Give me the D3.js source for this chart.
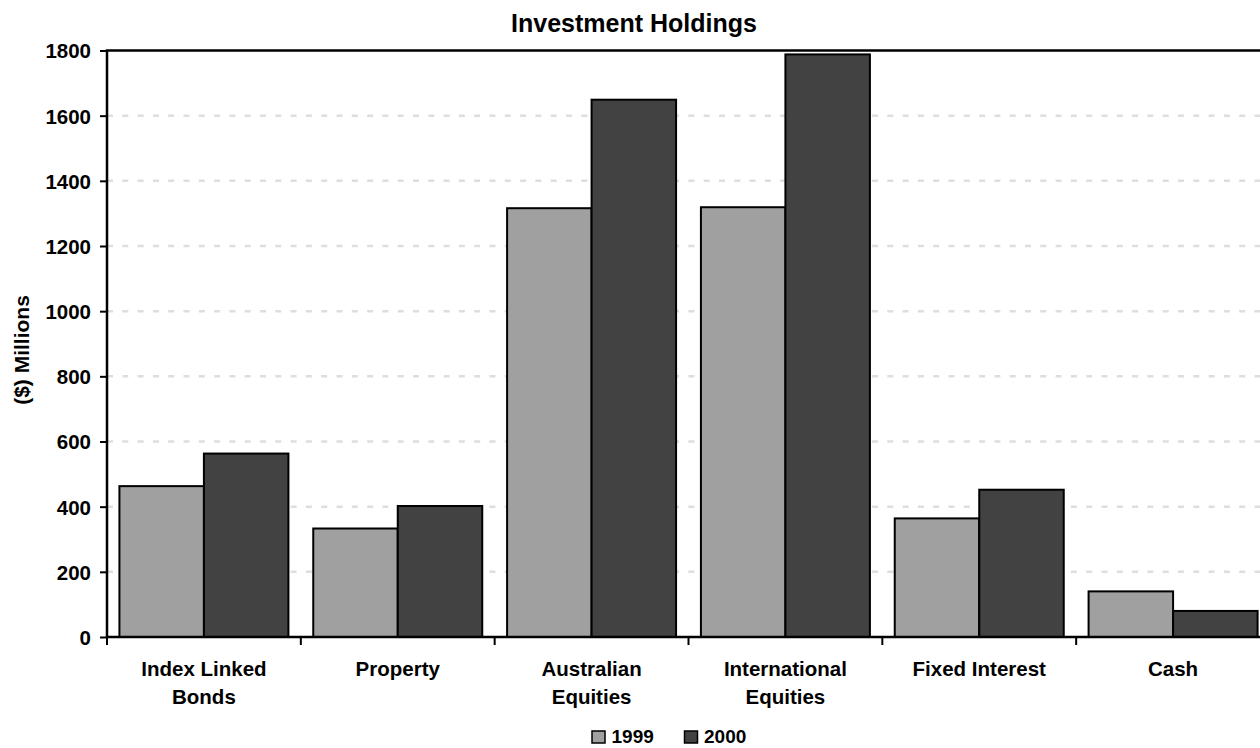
<!DOCTYPE html>
<html>
<head>
<meta charset="utf-8">
<script src="https://cdn.jsdelivr.net/npm/d3@7"></script>
<style>
  html, body { margin: 0; padding: 0; background: #fff; }
  svg { display: block; font-family: "Liberation Sans", Arial, sans-serif; font-weight: bold; }
</style>
</head>
<body>
<svg id="chart" width="1260" height="748"></svg>
<script>
const categories = [["Index Linked", "Bonds"], ["Property"], ["Australian", "Equities"], ["International", "Equities"], ["Fixed Interest"], ["Cash"]];
const categoryKeys = ["Index Linked Bonds", "Property", "Australian Equities", "International Equities", "Fixed Interest", "Cash"];
const seriesNames = ["1999", "2000"];
const values1999 = [463, 333, 1316, 1319, 364, 140];
const values2000 = [563, 402, 1649, 1788, 452, 80];
const yTicks = [0, 200, 400, 600, 800, 1000, 1200, 1400, 1600, 1800];
const colors = ["#a0a0a0", "#424242"];

const svg = d3.select("#chart");
const plotLeft = 107, plotRight = 1270, plotTop = 50.5, plotBottom = 637;

const x = d3.scaleBand().domain(categoryKeys).range([plotLeft, plotRight]).padding(0);
const xs = d3.scaleBand().domain(seriesNames).range([0, x.bandwidth()]).paddingInner(0).paddingOuter(0.147);
const y = d3.scaleLinear().domain([0, 1800]).range([plotBottom, plotTop]);

// gridlines
svg.append("g").selectAll("line").data(yTicks.filter(d => d > 0 && d < 1800)).join("line")
  .attr("x1", plotLeft).attr("x2", plotRight)
  .attr("y1", d => y(d)).attr("y2", d => y(d))
  .attr("stroke", "#dedede").attr("stroke-width", 2.5).attr("stroke-dasharray", "6,9.3");

// bars
const data = categoryKeys.map((c, i) => ({ c, vals: [values1999[i], values2000[i]] }));
const groups = svg.append("g").selectAll("g").data(data).join("g")
  .attr("transform", d => `translate(${x(d.c)},0)`);
groups.selectAll("rect").data(d => d.vals.map((v, j) => ({ s: seriesNames[j], v, j }))).join("rect")
  .attr("x", d => xs(d.s)).attr("width", xs.bandwidth())
  .attr("y", d => y(d.v)).attr("height", d => y(0) - y(d.v))
  .attr("fill", d => colors[d.j]).attr("stroke", "#000").attr("stroke-width", 2);

// frame: top, left, right
svg.append("path")
  .attr("d", `M${plotLeft},${plotBottom}V${plotTop}H${plotRight}V${plotBottom}`)
  .attr("fill", "none").attr("stroke", "#000").attr("stroke-width", 2.5);

// y axis
const yAxis = d3.axisLeft(y).tickValues(yTicks).tickSize(7).tickPadding(9).tickFormat(d3.format("d"));
const gy = svg.append("g").attr("transform", `translate(${plotLeft},0)`).call(yAxis);
gy.select(".domain").remove();
gy.selectAll(".tick line").attr("stroke", "#000").attr("stroke-width", 2);
gy.selectAll(".tick text").attr("fill", "#000").style("font-size", "20.5px").style("font-weight", "bold")
  .style("font-family", "'Liberation Sans', Arial, sans-serif").attr("dy", "0.36em");

// x axis
const boundaries = categoryKeys.map(c => x(c)).concat([plotRight]);
svg.append("line").attr("x1", plotLeft).attr("x2", plotRight).attr("y1", plotBottom).attr("y2", plotBottom)
  .attr("stroke", "#000").attr("stroke-width", 2.5);
svg.append("g").selectAll("line").data(boundaries).join("line")
  .attr("x1", d => d).attr("x2", d => d).attr("y1", plotBottom).attr("y2", plotBottom + 8)
  .attr("stroke", "#000").attr("stroke-width", 2);

const labels = svg.append("g").selectAll("text").data(categoryKeys).join("text")
  .attr("x", d => x(d) + x.bandwidth() / 2)
  .attr("y", 676)
  .attr("text-anchor", "middle")
  .style("font-size", "20.5px").attr("fill", "#000");
labels.each(function(d, i) {
  const t = d3.select(this);
  categories[i].forEach((line, k) => {
    t.append("tspan").attr("x", x(d) + x.bandwidth() / 2).attr("dy", k === 0 ? 0 : 27.5).text(line);
  });
});

// title
svg.append("text").attr("x", 634).attr("y", 32).attr("text-anchor", "middle")
  .style("font-size", "25px").attr("fill", "#000").text("Investment Holdings");

// y label
svg.append("text").attr("transform", "translate(29,350) rotate(-90)").attr("text-anchor", "middle")
  .style("font-size", "21px").attr("fill", "#000").text("($) Millions");

// legend
const legendItems = [{ name: seriesNames[0], x: 592 }, { name: seriesNames[1], x: 684.5 }];
const lg = svg.append("g").selectAll("g").data(legendItems).join("g")
  .attr("transform", d => `translate(${d.x},0)`);
lg.append("rect").attr("x", 0).attr("y", 731).attr("width", 13).attr("height", 12)
  .attr("fill", (d, i) => colors[i]).attr("stroke", "#000").attr("stroke-width", 1.5);
lg.append("text").attr("x", 19.5).attr("y", 743).style("font-size", "19px").attr("fill", "#000").text(d => d.name);
</script>
</body>
</html>
